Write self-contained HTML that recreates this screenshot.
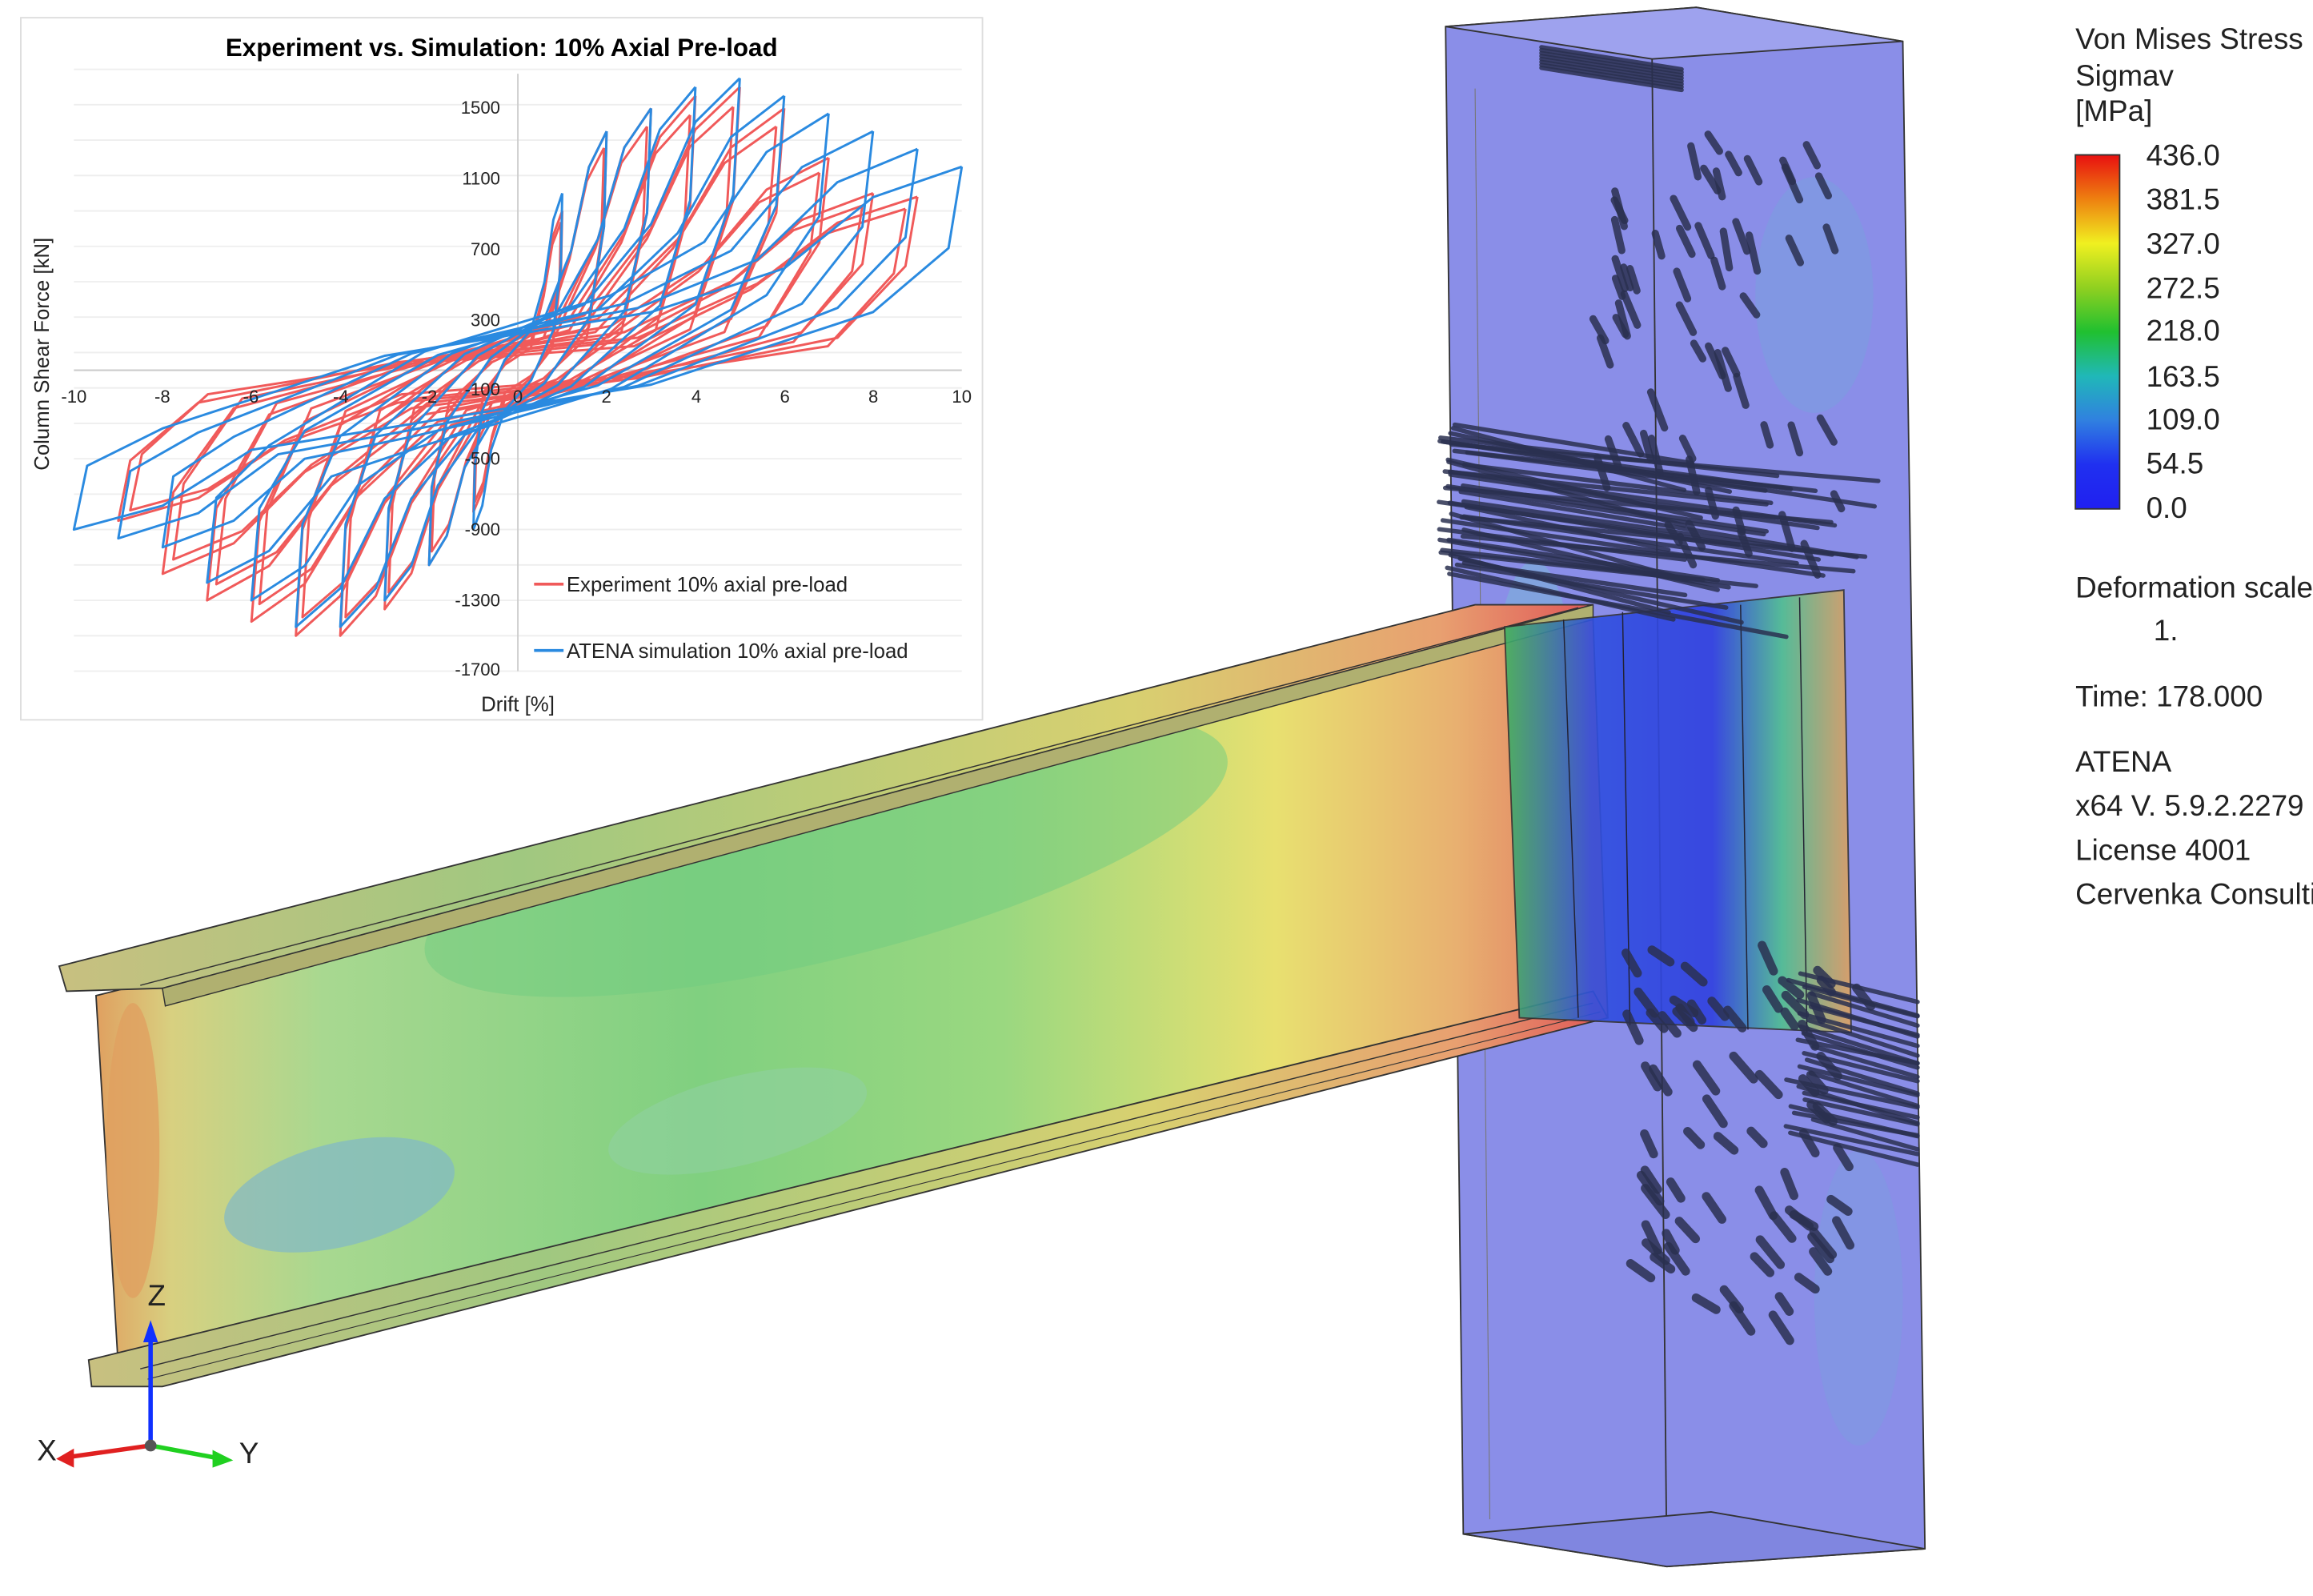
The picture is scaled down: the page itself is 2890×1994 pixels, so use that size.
<!DOCTYPE html>
<html><head><meta charset="utf-8">
<style>
html,body{margin:0;padding:0;background:#fff;}
svg{display:block;}
text{font-family:"Liberation Sans",sans-serif;}
</style></head>
<body>
<svg id="s" width="2890" height="1994" viewBox="0 0 1568 1082" xmlns="http://www.w3.org/2000/svg">
<defs>
<linearGradient id="beam" x1="0" y1="0" x2="1" y2="0">
<stop offset="0" stop-color="#e0a060"/>
<stop offset="0.05" stop-color="#d8d080"/>
<stop offset="0.15" stop-color="#a8d890"/>
<stop offset="0.4" stop-color="#80d080"/>
<stop offset="0.6" stop-color="#9ad880"/>
<stop offset="0.78" stop-color="#e8e070"/>
<stop offset="0.9" stop-color="#e8b070"/>
<stop offset="1" stop-color="#e07060"/>
</linearGradient>
<linearGradient id="flange" x1="0" y1="0" x2="1" y2="0">
<stop offset="0" stop-color="#c8c080"/>
<stop offset="0.3" stop-color="#a0c880"/>
<stop offset="0.7" stop-color="#d8d070"/>
<stop offset="0.9" stop-color="#e8a070"/>
<stop offset="1" stop-color="#e05858"/>
</linearGradient>
<linearGradient id="cb" x1="0" y1="0" x2="0" y2="1">
<stop offset="0" stop-color="#e81010"/>
<stop offset="0.125" stop-color="#ee8010"/>
<stop offset="0.25" stop-color="#f0f020"/>
<stop offset="0.375" stop-color="#90d020"/>
<stop offset="0.5" stop-color="#20c030"/>
<stop offset="0.625" stop-color="#20b8b8"/>
<stop offset="0.75" stop-color="#3080e0"/>
<stop offset="0.875" stop-color="#2030f0"/>
<stop offset="1" stop-color="#2020f0"/>
</linearGradient>
<linearGradient id="joint" x1="0" y1="0" x2="1" y2="0">
<stop offset="0" stop-color="#40b060"/>
<stop offset="0.25" stop-color="#3050e0"/>
<stop offset="0.6" stop-color="#3040e0"/>
<stop offset="0.8" stop-color="#50c090"/>
<stop offset="1" stop-color="#e0a060"/>
</linearGradient>
<clipPath id="webclip"><polygon points="65,675 1080,420 1090,690 80,925"/></clipPath>
</defs>

<!-- column -->
<polygon points="980,18 1150,5 1290,28 1305,1050 1130,1062 992,1040" fill="#8a8ee8" stroke="#333" stroke-width="1"/>
<polygon points="980,18 1150,5 1290,28 1120,40" fill="#9ea2ee" stroke="#333" stroke-width="1"/>
<line x1="1120" y1="40" x2="1130" y2="1062" stroke="#333" stroke-width="1"/>
<polygon points="992,1040 1130,1062 1305,1050 1160,1025" fill="#8086e0" stroke="#333" stroke-width="1"/>
<line x1="1000" y1="60" x2="1010" y2="1030" stroke="#777" stroke-width="0.6"/>
<ellipse cx="1230" cy="200" rx="40" ry="80" fill="#7c9ce0" opacity="0.6"/>
<ellipse cx="1040" cy="500" rx="30" ry="120" fill="#7cb0d8" opacity="0.6"/>
<ellipse cx="1260" cy="880" rx="30" ry="100" fill="#7c9ce0" opacity="0.5"/>

<!-- beam -->
<polygon points="65,675 1080,420 1090,690 80,925" fill="url(#beam)" stroke="#333" stroke-width="1"/>
<g clip-path="url(#webclip)">
<ellipse cx="560" cy="580" rx="280" ry="70" fill="#70cc80" opacity="0.5" transform="rotate(-14 560 580)"/>
<ellipse cx="230" cy="810" rx="80" ry="35" fill="#80b8c8" opacity="0.7" transform="rotate(-14 230 810)"/>
<ellipse cx="500" cy="760" rx="90" ry="30" fill="#90d0a0" opacity="0.6" transform="rotate(-14 500 760)"/>
<ellipse cx="90" cy="780" rx="18" ry="100" fill="#e0a060" opacity="0.8"/>
</g>
<polygon points="40,655 1000,410 1080,410 110,670 45,672" fill="url(#flange)" stroke="#333" stroke-width="1"/>
<polygon points="110,670 1080,410 1080,420 112,682" fill="#b0b070" stroke="#333" stroke-width="0.8"/>
<line x1="95" y1="668" x2="1070" y2="412" stroke="#333" stroke-width="0.8"/>
<polygon points="60,922 1080,672 1090,690 110,940 62,940" fill="url(#flange)" stroke="#333" stroke-width="1"/>
<line x1="95" y1="928" x2="1080" y2="680" stroke="#333" stroke-width="0.8"/>
<line x1="100" y1="935" x2="1085" y2="686" stroke="#333" stroke-width="0.6"/>

<!-- joint -->
<polygon points="1020,425 1250,400 1255,700 1030,690" fill="url(#joint)" opacity="0.9" stroke="#333" stroke-width="1"/>
<g stroke="#223" stroke-width="0.8" fill="none">
<line x1="1060" y1="420" x2="1070" y2="690"/><line x1="1100" y1="415" x2="1105" y2="695"/>
<line x1="1180" y1="410" x2="1185" y2="698"/><line x1="1220" y1="405" x2="1225" y2="700"/>
</g>

<!-- rebar clusters -->
<g id="rebar" stroke="#2a3050" stroke-opacity="0.85" stroke-width="4" stroke-linecap="round"></g>

<!-- chart -->
<rect x="14" y="12" width="652" height="476" fill="#fff" stroke="#ddd" stroke-width="1"/>
<text x="340" y="38" font-size="17" font-weight="bold" text-anchor="middle">Experiment vs. Simulation: 10% Axial Pre-load</text>
<g id="grid" stroke="#eee" stroke-width="1"></g>
<line x1="50" y1="251" x2="652" y2="251" stroke="#ccc" stroke-width="1.2"/>
<line x1="351" y1="50" x2="351" y2="455" stroke="#ccc" stroke-width="1"/>
<g id="loops" fill="none" stroke-width="1.6"></g>
<g font-size="12" text-anchor="end" fill="#222">
<text x="339" y="77">1500</text><text x="339" y="125">1100</text><text x="339" y="173">700</text>
<text x="339" y="221">300</text><text x="339" y="268">-100</text><text x="339" y="315">-500</text>
<text x="339" y="363">-900</text><text x="339" y="411">-1300</text><text x="339" y="458">-1700</text>
</g>
<g font-size="12" text-anchor="middle" fill="#222">
<text x="50" y="273">-10</text><text x="110" y="273">-8</text><text x="170" y="273">-6</text><text x="231" y="273">-4</text>
<text x="291" y="273">-2</text><text x="351" y="273">0</text><text x="411" y="273">2</text><text x="472" y="273">4</text>
<text x="532" y="273">6</text><text x="592" y="273">8</text><text x="652" y="273">10</text>
</g>
<text x="33" y="240" font-size="14" text-anchor="middle" transform="rotate(-90 33 240)" fill="#222">Column Shear Force [kN]</text>
<text x="351" y="482" font-size="14" text-anchor="middle" fill="#222">Drift [%]</text>
<line x1="362" y1="396" x2="382" y2="396" stroke="#f05a5a" stroke-width="2"/>
<text x="384" y="401" font-size="14" fill="#222">Experiment 10% axial pre-load</text>
<line x1="362" y1="441" x2="382" y2="441" stroke="#2a8ae0" stroke-width="2"/>
<text x="384" y="446" font-size="14" fill="#222">ATENA simulation 10% axial pre-load</text>

<!-- legend -->
<g font-size="20" fill="#222">
<text x="1407" y="33">Von Mises Stress</text>
<text x="1407" y="58">Sigmav</text>
<text x="1407" y="82">[MPa]</text>
</g>
<rect x="1407" y="105" width="30" height="240" fill="url(#cb)" stroke="#333"/>
<g font-size="20" fill="#222">
<text x="1455" y="112">436.0</text><text x="1455" y="142">381.5</text><text x="1455" y="172">327.0</text>
<text x="1455" y="202">272.5</text><text x="1455" y="231">218.0</text><text x="1455" y="262">163.5</text>
<text x="1455" y="291">109.0</text><text x="1455" y="321">54.5</text><text x="1455" y="351">0.0</text>
<text x="1407" y="405">Deformation scale</text>
<text x="1460" y="434">1.</text>
<text x="1407" y="479">Time:  178.000</text>
<text x="1407" y="523">ATENA</text>
<text x="1407" y="553">x64 V. 5.9.2.2279</text>
<text x="1407" y="583">License 4001</text>
<text x="1407" y="613">Cervenka Consulting</text>
</g>

<!-- triad -->
<line x1="102" y1="980" x2="102" y2="900" stroke="#1030ff" stroke-width="3"/>
<polygon points="102,895 97,910 107,910" fill="#1030ff"/>
<line x1="102" y1="980" x2="150" y2="989" stroke="#20d020" stroke-width="3"/>
<polygon points="158,990 144,983 144,995" fill="#20d020"/>
<line x1="102" y1="980" x2="45" y2="988" stroke="#e02020" stroke-width="3"/>
<polygon points="38,989 50,982 50,995" fill="#e02020"/>
<circle cx="102" cy="980" r="4" fill="#555"/>
<g font-size="20" fill="#222"><text x="100" y="885">Z</text><text x="162" y="992">Y</text><text x="25" y="990">X</text></g>
</svg>
<script>
var ns="http://www.w3.org/2000/svg";
function X(d){return 351+d*30.1;} function Y(f){return 251-f*0.12;}
var g=document.getElementById('grid');
for(var f=1700;f>=-1700;f-=200){var l=document.createElementNS(ns,'line');l.setAttribute('x1',50);l.setAttribute('x2',652);l.setAttribute('y1',Y(f));l.setAttribute('y2',Y(f));g.appendChild(l);}
function branch(A,Fs,Fe,k){
 var F=(Fs+Fe)/2;
 return [[A,Fs],[0.97*A,0.6*Fs],[0.8*A,0.2*F*k],[0.3*A,-0.05*F*k],[-0.3*A,-0.2*F*k],[-0.6*A,-0.5*Fe],[-0.8*A,-0.85*Fe],[-A,-Fe]];
}
function loop(A,Fp,Fn,col,k){
 var d1=branch(A,Fp,Fn,k);
 var d2=branch(A,Fn,Fp,k).map(function(q){return [-q[0],-q[1]];});
 var p=d1.concat(d2.slice(1));
 var d='M'+p.map(function(q){return X(q[0]).toFixed(1)+','+Y(q[1]).toFixed(1)}).join(' L');
 var e=document.createElementNS(ns,'path');e.setAttribute('d',d);e.setAttribute('stroke',col);e.setAttribute('stroke-linejoin','round');
 document.getElementById('loops').appendChild(e);}
var R=[[1,900,800],[2,1350,1100],[3,1480,1350],[4,1550,1500],[5,1600,1500],[6,1480,1420],[7,1200,1300],[8,1000,1150],[9,980,850]];
R.forEach(function(r){loop(r[0],r[1],r[2],'#f05a5a',1);loop(r[0]*0.97,r[1]*0.93,r[2]*0.93,'#f05a5a',0.8);});
var B=[[1,1000,900],[2,1350,1100],[3,1480,1300],[4,1600,1450],[5,1650,1450],[6,1550,1300],[7,1450,1200],[8,1350,1000],[9,1250,950],[10,1150,900]];
B.forEach(function(r){loop(r[0],r[1],r[2],'#2a8ae0',r[0]>6?1.6:1.2);});
var rb=document.getElementById('rebar');
function ln(x1,y1,x2,y2,w){var l=document.createElementNS(ns,'line');l.setAttribute('x1',x1);l.setAttribute('y1',y1);l.setAttribute('x2',x2);l.setAttribute('y2',y2);if(w)l.setAttribute('stroke-width',w);rb.appendChild(l);}
var s=7;function rnd(){s=(s*9301+49297)%233280;return s/233280;}
for(var i=0;i<40;i++){var y=285+i*2.6+rnd()*6;ln(975+rnd()*20,y,1130+rnd()*150,y+20+rnd()*25,3);}
for(var i=0;i<25;i++){var y=660+i*4.5;ln(1210+rnd()*20,y,1300,y+15+rnd()*10,3);}
for(var i=0;i<60;i++){var x=1080+rnd()*170,y=90+rnd()*280;ln(x,y,x+4+rnd()*6,y+10+rnd()*15,5);}
for(var i=0;i<70;i++){var x=1100+rnd()*160,y=640+rnd()*260;ln(x,y,x+6+rnd()*8,y+8+rnd()*10,6);}
for(var i=0;i<8;i++){var y=32+i*2;ln(1045,y,1140,y+15,3);}
</script>
</body></html>
